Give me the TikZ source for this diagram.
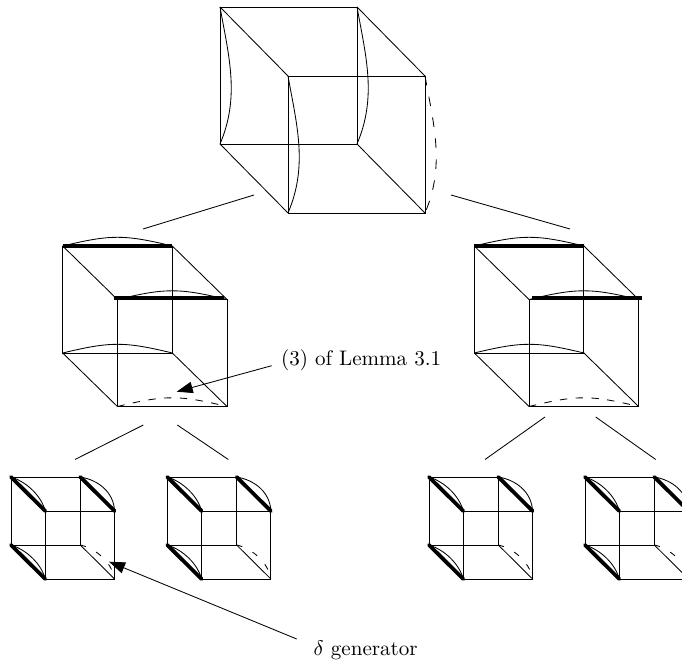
\documentclass[tikz,border=0pt]{standalone}
\usepackage{amsmath}
\usetikzlibrary{arrows.meta}
\tikzset{
    cubeline/.style={line width=0.4pt},
    heavy/.style={line width=1.8pt},
    sparse/.style={line width=0.4pt,dash pattern=on 3.5pt off 4pt},
    pointer/.style={line width=0.4pt,-{Triangle[length=7.6pt,width=5.4pt]}},
    caption/.style={anchor=base west,inner sep=0pt}
}
\newcommand{\CubeAt}[7]{
    \coordinate (#1btl) at (#2,#3);
    \coordinate (#1btr) at (#2+#4,#3);
    \coordinate (#1bbl) at (#2,#3+#5);
    \coordinate (#1bbr) at (#2+#4,#3+#5);
    \coordinate (#1ftl) at (#2+#6,#3+#7);
    \coordinate (#1ftr) at (#2+#4+#6,#3+#7);
    \coordinate (#1fbl) at (#2+#6,#3+#5+#7);
    \coordinate (#1fbr) at (#2+#4+#6,#3+#5+#7);
    \draw[cubeline] (#1btl) -- (#1btr) -- (#1bbr) -- (#1bbl) -- cycle;
    \draw[cubeline] (#1ftl) -- (#1ftr) -- (#1fbr) -- (#1fbl) -- cycle;
    \draw[cubeline] (#1btl) -- (#1ftl);
    \draw[cubeline] (#1btr) -- (#1ftr);
    \draw[cubeline] (#1bbl) -- (#1fbl);
    \draw[cubeline] (#1bbr) -- (#1fbr);
}
\newcommand{\SideArc}[2]{(#1) .. controls +(9,50) and +(20,-47) .. (#2)}
\newcommand{\LidArc}[2]{(#1) .. controls +(48,-11.6) and +(-48,-11.6) .. (#2)}
\newcommand{\MidCube}[4]{
    \CubeAt{#1}{#2}{#3}{109.6}{107}{54.7}{53.5}
    \draw[cubeline] \LidArc{#1btl}{#1btr};
    \draw[cubeline] \LidArc{#1ftl}{#1ftr};
    \draw[cubeline] \LidArc{#1bbl}{#1bbr};
    \draw[sparse] \LidArc{#1fbl}{#1fbr};
    \draw[heavy] (#1btl) -- (#1btr);
    \draw[heavy] ([xshift=#4*0.4745pt,yshift=0.75pt]#1ftl) -- ([xshift=#4*0.4745pt,yshift=0.75pt]#1ftr);
}
\newcommand{\SmallCube}[3]{
    \CubeAt{#1}{#2}{#3}{69.3}{68}{34.3}{34}
    \draw[cubeline] (#1btl) .. controls +(16,5) and +(-4,-15) .. (#1ftl);
    \draw[cubeline] (#1bbl) .. controls +(16,5) and +(-4,-15) .. (#1fbl);
    \draw[cubeline] (#1btr) .. controls +(18,3) and +(-1,-19) .. (#1ftr);
    \draw[sparse,dash pattern=on 2.8pt off 5.5pt] (#1bbr) .. controls +(14,3) and +(-3,-18) .. (#1fbr);
    \draw[heavy,line cap=round] (#1btl) -- (#1ftl);
    \draw[heavy,line cap=round] (#1btr) -- (#1ftr);
    \draw[heavy,line cap=round] (#1bbl) -- (#1fbl);
}
\begin{document}
\begin{tikzpicture}[x=0.4745pt,y=-0.4745pt]
    \clip (0,0) rectangle (682,664);
    \CubeAt{top}{220}{7}{137}{137}{68}{69}
    \draw[cubeline] \SideArc{topbtl}{topbbl};
    \draw[cubeline] \SideArc{topbtr}{topbbr};
    \draw[cubeline] \SideArc{topftl}{topfbl};
    \draw[sparse,dash pattern=on 4.5pt off 5.5pt] \SideArc{topftr}{topfbr};

    \MidCube{midl}{62.7}{246}{-3}
    \MidCube{midr}{474.3}{246}{3}

    \SmallCube{lowa}{11}{477}
    \SmallCube{lowb}{167.3}{477}
    \SmallCube{lowc}{429}{477}
    \SmallCube{lowd}{585}{477}

    \coordinate (ta) at (254,195);
    \coordinate (tb) at (143,229);
    \coordinate (tc) at (451,195);
    \coordinate (td) at (570,229);
    \coordinate (la) at (143.3,425);
    \coordinate (lb) at (75,459.5);
    \coordinate (lc) at (177.3,425);
    \coordinate (ld) at (228.3,459.5);
    \coordinate (ra) at (545,417);
    \coordinate (rb) at (485,459.5);
    \coordinate (rc) at (595.7,417);
    \coordinate (rd) at (655.7,459.5);
    \draw[cubeline] (ta) -- (tb);
    \draw[cubeline] (tc) -- (td);
    \draw[cubeline] (la) -- (lb);
    \draw[cubeline] (lc) -- (ld);
    \draw[cubeline] (ra) -- (rb);
    \draw[cubeline] (rc) -- (rd);

    \node[caption] (lemma) at (280.7,366) {(3) of Lemma 3.1};
    \node[caption] (delta) at (313.3,655) {$\delta$ generator};
    \coordinate (lemmatail) at (271.7,365.7);
    \coordinate (lemmatip) at (176.7,391.7);
    \coordinate (deltatail) at (296.7,639);
    \coordinate (deltatip) at (109,561.7);
    \draw[pointer] (lemmatail) -- (lemmatip);
    \draw[pointer] (deltatail) -- (deltatip);
\end{tikzpicture}
\end{document}
